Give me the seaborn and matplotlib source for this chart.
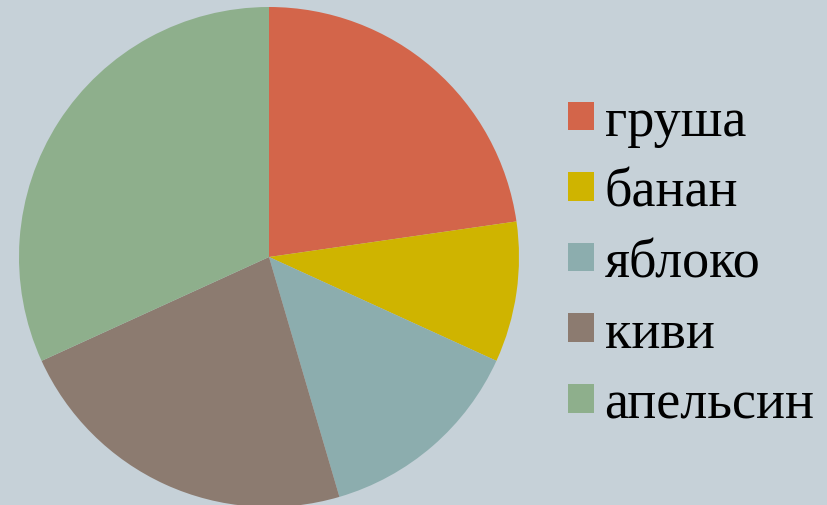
import matplotlib
matplotlib.use("Agg")
import matplotlib.pyplot as plt
import seaborn as sns

sns.set_style("white")
plt.rcParams['font.family'] = ['Liberation Serif', 'DejaVu Serif']

# data
fruits = ["груша", "банан", "яблоко", "киви", "апельсин"]
shares = [25, 10, 15, 25, 35]
colors = ["#D3654A", "#CFB400", "#8CADAE", "#8C7B70", "#8EAF8C"]
bg = "#C6D1D8"

fig = plt.figure(figsize=(8.27, 5.06), dpi=100)
fig.patch.set_facecolor(bg)

# pie centred at ~(269, 258) px, radius ~250 px
ax = fig.add_axes([19 / 827, -2 / 506, 500 / 827, 500 / 506])
ax.set_facecolor(bg)
wedges, _ = ax.pie(shares, colors=colors, startangle=90, counterclock=False,
                   wedgeprops={"linewidth": 0})
ax.set_xlim(-1, 1)
ax.set_ylim(-1, 1)
ax.set_aspect("equal")
ax.axis("off")

leg = fig.legend(wedges, fruits, loc="center left", bbox_to_anchor=(546 / 827, 0.478),
                 frameon=False, fontsize=39, handlelength=0.48, handleheight=0.44,
                 handletextpad=0.2, labelspacing=0.37, borderaxespad=0)
for t in leg.get_texts():
    t.set_color("black")

fig.savefig("out.png", dpi=100, facecolor=bg)
